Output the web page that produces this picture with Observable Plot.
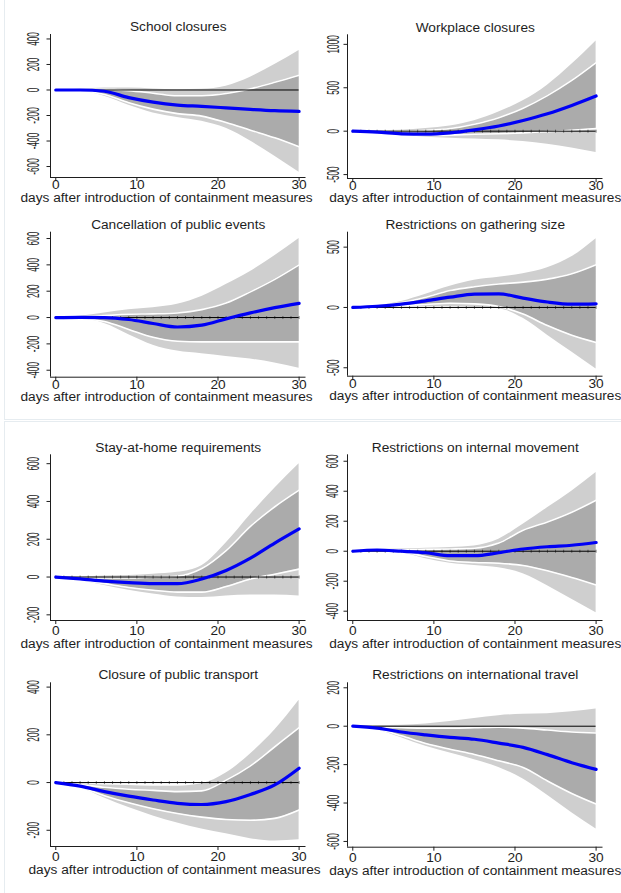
<!DOCTYPE html>
<html>
<head>
<meta charset="utf-8">
<script src="https://cdn.jsdelivr.net/npm/d3@7"></script>
<script src="https://cdn.jsdelivr.net/npm/@observablehq/plot@0.6"></script>
<style>
  body { margin: 0; background: #fff; }
  #fig { position: relative; width: 621px; height: 893px; overflow: hidden; background: #fff;
         font-family: "Liberation Sans", Arial, Helvetica, sans-serif; }
  .sheet { position: absolute; border: 1px solid #e6ecf0; }
  .panel { position: absolute; }
</style>
</head>
<body>
<div id="fig"></div>
<script>
// Days after a containment measure is introduced, and the axis ticks
const days = [0, 3, 6, 9, 12, 15, 18, 21, 24, 27, 30];
const horizon = d3.range(0, 31);
const xTicks = [0, 10, 20, 30];
const xLabel = "days after introduction of containment measures";

const titles = [
  "School closures", "Workplace closures",
  "Cancellation of public events", "Restrictions on gathering size",
  "Stay-at-home requirements", "Restrictions on internal movement",
  "Closure of public transport", "Restrictions on international travel"
];

// Impulse responses with 68% and 95% bands
const schoolIrf  = [0, 0, -10, -60, -95, -118, -128, -140, -152, -162, -168];
const schoolLo68 = [0, -5, -35, -100, -150, -185, -205, -255, -315, -375, -445];
const schoolHi68 = [0, 2, 5, -5, -25, -45, -45, -28, 10, 60, 115];
const schoolLo95 = [0, -8, -50, -120, -180, -215, -245, -300, -400, -520, -645];
const schoolHi95 = [0, 5, 15, 15, 8, 2, 5, 30, 100, 200, 310];
const schoolTicks = [-600, -400, -200, 0, 200, 400];

const workIrf  = [0, -10, -30, -35, -20, 15, 60, 123, 200, 296, 405];
const workLo68 = [0, -12, -35, -50, -45, -35, -30, -20, -5, 10, 30];
const workHi68 = [0, 0, 0, 10, 30, 80, 155, 265, 410, 585, 790];
const workLo95 = [0, -15, -45, -70, -80, -90, -100, -120, -150, -195, -245];
const workHi95 = [0, 5, 10, 30, 60, 120, 220, 350, 530, 770, 1040];
const workTicks = [-500, 0, 500, 1000];

const eventsIrf  = [0, 2, 0, -15, -45, -72, -58, -10, 35, 75, 108];
const eventsLo68 = [0, -5, -30, -90, -150, -180, -185, -185, -185, -185, -185];
const eventsHi68 = [0, 5, 15, 25, 28, 35, 60, 110, 195, 290, 400];
const eventsLo95 = [0, -8, -45, -130, -210, -255, -275, -295, -315, -345, -385];
const eventsHi95 = [0, 10, 35, 60, 75, 100, 160, 250, 350, 470, 600];
const eventsTicks = [-400, -200, 0, 200, 400, 600];

const gatherIrf  = [0, 10, 28, 55, 85, 110, 112, 78, 45, 27, 30];
const gatherLo68 = [0, 5, 15, 25, 35, 30, 8, -55, -150, -230, -290];
const gatherHi68 = [0, 12, 40, 85, 140, 172, 195, 210, 235, 280, 355];
const gatherLo95 = [0, 2, 5, 5, 5, 0, -10, -90, -230, -370, -510];
const gatherHi95 = [0, 15, 50, 110, 175, 225, 250, 280, 330, 420, 570];
const gatherTicks = [-500, 0, 500];

const homeIrf  = [0, -10, -22, -30, -35, -35, -10, 35, 100, 180, 255];
const homeLo68 = [0, -15, -35, -55, -70, -80, -80, -50, -10, 15, 42];
const homeHi68 = [0, -2, -5, -5, 0, 5, 45, 140, 268, 372, 460];
const homeLo95 = [0, -18, -45, -70, -90, -105, -108, -100, -95, -95, -100];
const homeHi95 = [0, 0, 5, 8, 15, 25, 60, 180, 330, 470, 600];
const homeTicks = [-200, 0, 200, 400, 600];

const moveIrf  = [0, 8, 0, -10, -30, -30, -10, 15, 30, 40, 58];
const moveLo68 = [0, 5, -5, -35, -65, -75, -80, -95, -130, -175, -225];
const moveHi68 = [0, 10, 10, 12, 15, 20, 55, 140, 195, 260, 340];
const moveLo95 = [0, 2, -10, -50, -80, -95, -110, -150, -230, -320, -410];
const moveHi95 = [0, 12, 15, 20, 25, 35, 80, 180, 290, 400, 525];
const moveTicks = [-400, -200, 0, 200, 400, 600];

const transIrf  = [0, -15, -38, -57, -73, -87, -92, -80, -50, -10, 60];
const transLo68 = [0, -20, -55, -85, -110, -130, -145, -155, -158, -150, -115];
const transHi68 = [0, -8, -20, -28, -33, -38, -35, 10, 70, 150, 230];
const transLo95 = [0, -22, -65, -105, -140, -170, -195, -215, -235, -245, -240];
const transHi95 = [0, -5, -10, -12, -15, -15, -5, 40, 120, 220, 345];
const transTicks = [-200, 0, 200, 400];

const travelIrf  = [0, -10, -30, -45, -58, -68, -88, -110, -148, -190, -225];
const travelLo68 = [0, -15, -50, -90, -120, -147, -180, -215, -285, -350, -405];
const travelHi68 = [0, -5, -8, -10, -10, -8, -5, -10, -20, -30, -35];
const travelLo95 = [0, -18, -60, -105, -140, -175, -215, -275, -360, -450, -535];
const travelHi95 = [0, 2, 5, 12, 25, 40, 55, 62, 65, 75, 90];
const travelTicks = [-600, -400, -200, 0, 200];

// y-axis ranges of each panel
const yDomains = [
  [-686, 435], [-545, 1110],
  [-453, 648], [-570, 624],
  [-230, 647], [-462, 643],
  [-268, 418], [-630, 226]
];
const xDomain = [-0.65, 30.85];

const series = [
  [schoolIrf, schoolLo68, schoolHi68, schoolLo95, schoolHi95, schoolTicks],
  [workIrf, workLo68, workHi68, workLo95, workHi95, workTicks],
  [eventsIrf, eventsLo68, eventsHi68, eventsLo95, eventsHi95, eventsTicks],
  [gatherIrf, gatherLo68, gatherHi68, gatherLo95, gatherHi95, gatherTicks],
  [homeIrf, homeLo68, homeHi68, homeLo95, homeHi95, homeTicks],
  [moveIrf, moveLo68, moveHi68, moveLo95, moveHi95, moveTicks],
  [transIrf, transLo68, transHi68, transLo95, transHi95, transTicks],
  [travelIrf, travelLo68, travelHi68, travelLo95, travelHi95, travelTicks]
];
// whether the zero line carries day markers
const zeroMarkers = [false, true, true, true, true, true, true, false];

// Panel placement: svg box and plot margins
const layout = [
  {left: 0,   top: 0,   width: 310, height: 210, mt: 34,   mb: 33,   ml: 50, mr: 4.5,  tdy: -7.5, pad: -2.6, xdy: 20,   xdx: -11.7, ydx: -11.5},
  {left: 310, top: 0,   width: 311, height: 210, mt: 34.3, mb: 32,   ml: 37, mr: 18.5, tdy: -7.3, pad: -2.6, xdy: 19.5, xdx: 0,     ydx: -9},
  {left: 0,   top: 205, width: 310, height: 210, mt: 26.7, mb: 38.3, ml: 50, mr: 4.5,  tdy: -7.4, pad: -2.2, xdy: 19.3, xdx: -11.7, ydx: -11.5},
  {left: 310, top: 205, width: 311, height: 210, mt: 26.7, mb: 39.3, ml: 37, mr: 18.5, tdy: -7.4, pad: -2.2, xdy: 19.8, xdx: 0,     ydx: -8.8},
  {left: 0,   top: 422, width: 310, height: 228, mt: 32.3, mb: 30,   ml: 50, mr: 4.5,  tdy: -7.6, pad: 0.8,  xdy: 22.7, xdx: -11.7, ydx: -11.2},
  {left: 310, top: 422, width: 311, height: 228, mt: 32.3, mb: 30,   ml: 37, mr: 18.5, tdy: -7.6, pad: 0.8,  xdy: 22.7, xdx: 0,     ydx: -9.5},
  {left: 0,   top: 650, width: 310, height: 243, mt: 32.3, mb: 47,   ml: 50, mr: 4.5,  tdy: -8.3, pad: 0.8,  xdy: 23,   xdx: -3.7,  ydx: -11.5},
  {left: 310, top: 650, width: 311, height: 243, mt: 32.3, mb: 46.3, ml: 37, mr: 18.5, tdy: -8.3, pad: 0.8,  xdy: 23,   xdx: 0,     ydx: -9}
];

const FONT = 13.7;
const YFONT = 16.5;
const INK = "#1e1e1e";
const LIGHT = "#cfcfcf";
const DARK = "#ababab";
const BLUE = "#0000f5";
const NARROW = 0.5; // squeeze of the rotated y tick labels along their reading direction

// short vertical stroke used as the day marker on the zero line
const vtick = {draw(ctx, size) { const r = Math.sqrt(size / Math.PI); ctx.moveTo(0, -r); ctx.lineTo(0, r); }};

const fig = document.getElementById("fig");

// faint frames around the two combined figures
for (const [t, h] of [[-1, 419], [421, 500]]) {
  const s = document.createElement("div");
  s.className = "sheet";
  s.style.left = "4px"; s.style.top = t + "px";
  s.style.width = "640px"; s.style.height = h + "px";
  fig.appendChild(s);
}

series.forEach(([irf, lo68, hi68, lo95, hi95, yTicks], k) => {
  const L = layout[k];
  const rows = days.map((d, i) => ({day: d, irf: irf[i], lo68: lo68[i], hi68: hi68[i], lo95: lo95[i], hi95: hi95[i]}));
  const curve = "monotone-x";
  const marks = [
    Plot.areaY(rows, {x: "day", y1: "lo95", y2: "hi95", fill: LIGHT, curve}),
    Plot.areaY(rows, {x: "day", y1: "lo68", y2: "hi68", fill: DARK, curve}),
    Plot.lineY(rows, {x: "day", y: "hi68", stroke: "#fff", strokeWidth: 1.6, curve}),
    Plot.lineY(rows, {x: "day", y: "lo68", stroke: "#fff", strokeWidth: 1.6, curve}),
    Plot.ruleY([0], {x1: days[0], x2: days[days.length - 1], stroke: "#000", strokeWidth: 1})
  ];
  if (zeroMarkers[k]) {
    marks.push(Plot.dot(horizon, {x: d => d, y: 0, symbol: vtick, r: 1.5, stroke: "#000", strokeWidth: 0.5}));
  }
  marks.push(
    Plot.lineY(rows, {x: "day", y: "irf", stroke: BLUE, strokeWidth: 3.2, curve}),
    // axis lines
    Plot.ruleX([xDomain[0]], {stroke: INK, strokeWidth: 1}),
    Plot.ruleY([yDomains[k][0]], {stroke: INK, strokeWidth: 1}),
    Plot.axisX(xTicks, {tickSize: 4, tickPadding: L.pad, fontSize: FONT, fill: INK, stroke: INK, label: null, tickFormat: d => String(d)}),
    Plot.axisY(yTicks, {tickSize: 3.5, stroke: INK, label: null, tickFormat: () => ""}),
    // rotated y tick labels (first text mark of the panel)
    Plot.text(yTicks, {y: d => d, text: d => String(d), frameAnchor: "left", dx: L.ydx, rotate: -90,
      textAnchor: "middle", lineAnchor: "bottom", fontSize: YFONT, fill: INK}),
    Plot.text([titles[k]], {text: d => d, frameAnchor: "top", dy: L.tdy, lineAnchor: "middle", fontSize: FONT, fill: INK}),
    Plot.text([xLabel], {text: d => d, frameAnchor: "bottom", dx: L.xdx, dy: L.xdy, lineAnchor: "middle", fontSize: FONT, fill: INK})
  );

  const svg = Plot.plot({
    width: L.width, height: L.height,
    marginTop: L.mt, marginBottom: L.mb, marginLeft: L.ml, marginRight: L.mr,
    style: {background: "transparent", overflow: "visible", fontFamily: "Liberation Sans, Arial, Helvetica, sans-serif", fontSize: FONT + "px"},
    x: {domain: xDomain},
    y: {domain: yDomains[k]},
    marks
  });

  // squeeze the rotated y tick labels along their reading direction
  const tickGroup = svg.querySelector('g[aria-label="text"]');
  if (tickGroup) {
    tickGroup.querySelectorAll("text").forEach((el) => {
      const t = el.getAttribute("transform") || "";
      if (/rotate/.test(t)) el.setAttribute("transform", t + ` scale(${NARROW},1)`);
    });
  }

  const holder = document.createElement("div");
  holder.className = "panel";
  holder.style.left = L.left + "px";
  holder.style.top = L.top + "px";
  holder.style.width = L.width + "px";
  holder.style.height = L.height + "px";
  holder.appendChild(svg);
  fig.appendChild(holder);
});
</script>
</body>
</html>
